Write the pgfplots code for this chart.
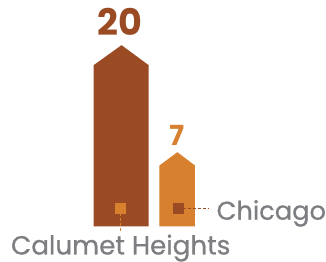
\documentclass[border=0pt]{standalone}
\usepackage{fontspec}
\setmainfont{Poppins}
\newfontfamily\medfont{Poppins}[FakeBold=0.7]
\usepackage{pgfplots}
\pgfplotsset{compat=1.18}
\definecolor{cbrown}{RGB}{154,75,35}
\definecolor{corange}{RGB}{215,128,47}
\definecolor{cgray}{RGB}{125,126,129}
\begin{document}
\begin{tikzpicture}
\begin{axis}[x=1pt,y=1pt,xmin=0,xmax=326,ymin=0,ymax=265,
  axis line style={draw=none},xtick=\empty,ytick=\empty,clip=false,
  scale only axis]
% Calumet Heights (20)
\addplot[fill=cbrown,draw=none] coordinates {(94.7,36) (94.7,199) (123,219.3) (150.5,199) (150.5,36)} -- cycle;
% Chicago (7)
\addplot[fill=corange,draw=none] coordinates {(161.3,36) (161.3,97.5) (179.5,111) (197.3,97.5) (197.3,36)} -- cycle;
% leader lines
\addplot[corange,line width=1.2pt,dash pattern=on 3pt off 2pt] coordinates {(122,49) (122,31)};
\addplot[cbrown,line width=1.2pt,dash pattern=on 3pt off 2pt] coordinates {(185,54) (211,54)};
% markers
\addplot[only marks,mark=square*,mark size=5pt,corange,mark options={draw=none,fill=corange}] coordinates {(122,54)};
\addplot[only marks,mark=square*,mark size=5pt,cbrown,mark options={draw=none,fill=cbrown}] coordinates {(180,54)};
% values
\node[anchor=base,inner sep=0pt,text=cbrown,font=\fontsize{37}{37}\selectfont\bfseries] at (axis cs:121,229) {20};
\node[anchor=base,inner sep=0pt,text=corange,font=\fontsize{28}{28}\selectfont\bfseries] at (axis cs:179,118) {7};
% labels
\node[anchor=base west,inner sep=0pt,text depth=6pt,text=cgray,font=\medfont\fontsize{26.5}{27}\selectfont] at (axis cs:11,7.5) {Calumet Heights};
\node[anchor=base west,inner sep=0pt,text=cgray,font=\medfont\fontsize{26}{26}\selectfont] at (axis cs:219,42.7) {Chicago};
\end{axis}
\end{tikzpicture}
\end{document}
